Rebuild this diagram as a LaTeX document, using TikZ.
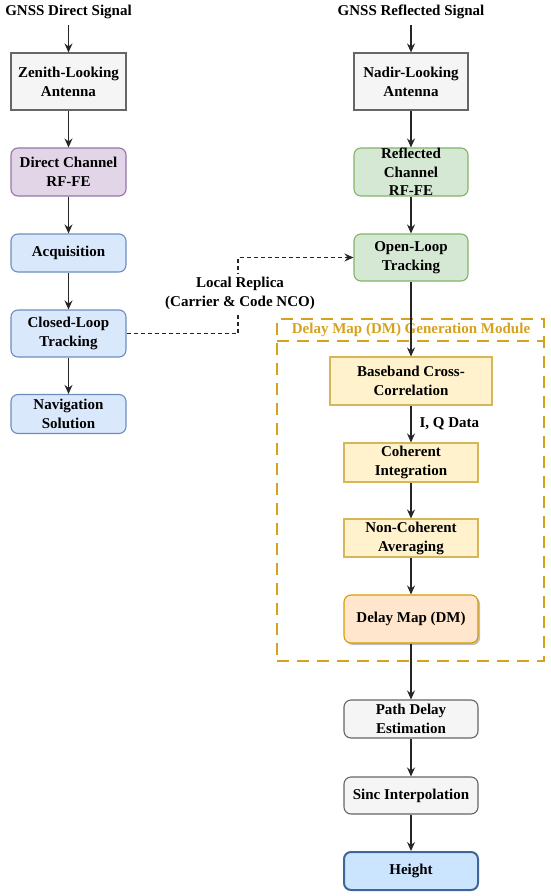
\documentclass[tikz,border=0pt]{standalone}
\usepackage{fontspec}
\setmainfont{Liberation Serif}
\usetikzlibrary{arrows.meta,shadows}
\definecolor{grayF}{HTML}{F5F5F5}\definecolor{grayD}{HTML}{666666}
\definecolor{purF}{HTML}{E1D5E7}\definecolor{purD}{HTML}{9673A6}
\definecolor{bluF}{HTML}{DAE8FC}\definecolor{bluD}{HTML}{6C8EBF}
\definecolor{grnF}{HTML}{D5E8D4}\definecolor{grnD}{HTML}{82B366}
\definecolor{yelF}{HTML}{FFF2CC}\definecolor{yelD}{HTML}{D6B656}
\definecolor{orgF}{HTML}{FFE6CC}\definecolor{orgD}{HTML}{D79B00}
\definecolor{hgtF}{HTML}{CCE5FF}\definecolor{hgtD}{HTML}{3E6797}
\definecolor{goldC}{HTML}{D6A21E}
\begin{document}
\begin{tikzpicture}[x=1pt,y=-1pt,
  every node/.style={font=\fontsize{15}{19}\selectfont\bfseries, align=center},
  box/.style={draw, line width=1.1pt, inner sep=0pt, text=black},
  sq/.style={box, rectangle},
  rd/.style={box, rounded corners=7pt},
  gbox/.style={fill=grayF, draw=grayD},
  pbox/.style={fill=purF, draw=purD},
  bbox/.style={fill=bluF, draw=bluD},
  vbox/.style={fill=grnF, draw=grnD},
  ybox/.style={fill=yelF, draw=yelD},
  obox/.style={fill=orgF, draw=orgD},
  arr/.style={draw=black!85, line width=1.1pt, -{Stealth[length=9pt,width=8pt,inset=3pt]}},
  darr/.style={arr, dash pattern=on 4pt off 3pt},
  title/.style={anchor=base, inner xsep=0pt, inner ysep=6pt, text depth=3pt},
  module/.style={draw=goldC, line width=2pt, dash pattern=on 12pt off 8pt}
]
\useasboundingbox (0,0) rectangle (550,896);

% titles
\node[title] (tl) at (68.5,16) {GNSS Direct Signal};
\node[title] (tr) at (411,16) {GNSS Reflected Signal};

% left column
\node[sq, gbox, minimum width=115pt, minimum height=57pt] (zen) at (68.5,81.5) {Zenith-Looking\\Antenna};
\node[rd, pbox, minimum width=115pt, minimum height=48pt] (dir) at (68.5,172) {Direct Channel\\RF-FE};
\node[rd, bbox, minimum width=115pt, minimum height=38pt] (acq) at (68.5,253) {Acquisition};
\node[rd, bbox, minimum width=115pt, minimum height=47pt] (cl) at (68.5,333.5) {Closed-Loop\\Tracking};
\node[rd, bbox, minimum width=115pt, minimum height=39pt] (nav) at (68.5,414) {Navigation\\Solution};

% module container
\node[module, minimum width=267pt, minimum height=342pt, inner sep=0pt] (mod) at (410.5,490) {};
\coordinate (hl) at (277,341);
\coordinate (hr) at (544,341);
\draw[module] (hl) -- (hr);
\node[text=goldC] (modt) at (411,330) {Delay Map (DM) Generation Module};

% right column
\node[sq, gbox, minimum width=114pt, minimum height=57pt] (nad) at (411,81.5) {Nadir-Looking\\Antenna};
\node[rd, vbox, minimum width=114pt, minimum height=48pt, font=\fontsize{15}{18.5}\selectfont\bfseries] (ref) at (411,172) {Reflected\\Channel\\RF-FE};
\node[rd, vbox, minimum width=114pt, minimum height=47pt] (ol) at (411,257.5) {Open-Loop\\Tracking};
\node[sq, ybox, minimum width=162pt, minimum height=48pt] (bb) at (411,381) {Baseband Cross-\\Correlation};
\node[sq, ybox, minimum width=134pt, minimum height=39pt] (ci) at (411,462.5) {Coherent\\Integration};
\node[sq, ybox, minimum width=134pt, minimum height=38pt] (nc) at (411,538) {Non-Coherent\\Averaging};
\node[rd, obox, minimum width=134pt, minimum height=48pt,
      drop shadow={shadow xshift=2pt, shadow yshift=-2pt, opacity=0.25, fill=black}] (dm) at (411,619) {Delay Map (DM)};
\node[rd, gbox, minimum width=134pt, minimum height=38pt] (pd) at (411,719) {Path Delay\\Estimation};
\node[rd, gbox, minimum width=134pt, minimum height=37pt] (si) at (411,795.5) {Sinc Interpolation};
\node[rd, fill=hgtF, draw=hgtD, line width=2pt, minimum width=134pt, minimum height=38pt] (ht) at (411,871) {Height};

% left arrows
\draw[arr] (tl.south) -- (zen.north);
\draw[arr] (zen) -- (dir);
\draw[arr] (dir) -- (acq);
\draw[arr] (acq) -- (cl);
\draw[arr] (cl) -- (nav);

% right arrows
\draw[arr] (tr.south) -- (nad.north);
\draw[arr] (nad) -- (ref);
\draw[arr] (ref) -- (ol);
\draw[arr] (ol) -- (bb);
\draw[arr] (bb) -- (ci) node[pos=0.5, anchor=west, xshift=8pt, inner sep=0pt] (iq) {I, Q Data};
\draw[arr] (ci) -- (nc);
\draw[arr] (nc) -- (dm);
\draw[arr] (dm) -- (pd);
\draw[arr] (pd) -- (si);
\draw[arr] (si) -- (ht);

% dashed local replica
\coordinate (c1) at (238,333.5);
\draw[darr] (cl.east) -- (c1) |- (ol.west);
\node[fill=white, inner xsep=2pt, inner ysep=3pt] (lr) at (240,293) {Local Replica\\(Carrier \& Code NCO)};
\end{tikzpicture}
\end{document}
